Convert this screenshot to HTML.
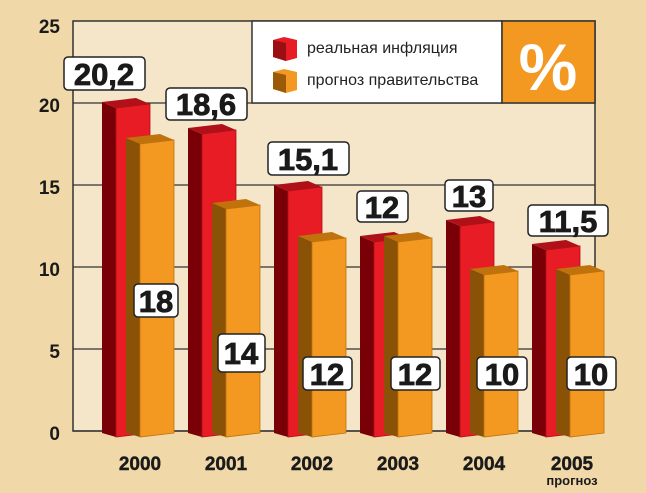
<!DOCTYPE html>
<html><head><meta charset="utf-8"><style>
body{margin:0;background:#f0d8a8;}
svg{display:block;font-family:"Liberation Sans","DejaVu Sans",sans-serif;}
.lb{fill:#fff;stroke:#222;stroke-width:1.5;}
.lt{font-weight:bold;font-size:31px;fill:#1a1a1a;stroke:#1a1a1a;stroke-width:0.8;text-anchor:middle;}
.ax{font-weight:bold;font-size:19px;fill:#1a1a1a;text-anchor:end;}
.yr{font-weight:bold;font-size:19px;fill:#1a1a1a;stroke:#1a1a1a;stroke-width:0.4;text-anchor:middle;}
.rs{fill:#7a0008}.rf{fill:#e81c24;stroke:#b01018;stroke-width:0.8}.rt{fill:#b01018}
.os{fill:#8a5206}.of{fill:#f39820;stroke:#c0720c;stroke-width:0.8}.ot{fill:#c0720c}
</style></head><body>
<svg width="646" height="493" viewBox="0 0 646 493">
<rect width="646" height="493" fill="#f0d8a8"/>
<rect x="73" y="21" width="522" height="410" fill="#f5e6ca" stroke="#333" stroke-width="1.5"/>
<g stroke="#333" stroke-width="1.3">
<line x1="73" y1="103" x2="595" y2="103"/><line x1="73" y1="185" x2="595" y2="185"/>
<line x1="73" y1="267" x2="595" y2="267"/><line x1="73" y1="349" x2="595" y2="349"/>
<line x1="73" y1="431" x2="595" y2="431"/>
</g>
<g class="ax"><text x="60" y="33">25</text><text x="60" y="112">20</text><text x="60" y="194">15</text><text x="60" y="276">10</text><text x="60" y="358">5</text><text x="60" y="440">0</text></g>
<rect x="252" y="21" width="250" height="82" fill="#fff" stroke="#333" stroke-width="1.5"/>
<rect x="502" y="21" width="93" height="82" fill="#f39820" stroke="#333" stroke-width="1.5"/>
<text x="548" y="90" text-anchor="middle" font-weight="bold" font-size="66" fill="#fff">%</text>
<g>
<polygon points="273,40 284,37 297,40 297,58 286,61 273,57" fill="#e81c24"/><polygon points="273,40 286,43 286,61 273,57" fill="#9a0f14"/>
<polygon points="273,72 284,69 297,72 297,90 286,93 273,89" fill="#f39820"/><polygon points="273,72 286,75 286,93 273,89" fill="#9a5a08"/>
</g>
<text x="307" y="53" font-size="16" fill="#222">реальная инфляция</text>
<text x="307" y="85" font-size="16" fill="#222">прогноз правительства</text>

<polygon class="rs" points="102,102 116,108 116,437 102,433"/><polygon class="rf" points="116,108 150,104 150,433 116,437"/><polygon class="rt" points="102,102 136,98 150,104 116,108"/>
<polygon class="os" points="126,138 140,144 140,437 126,433"/><polygon class="of" points="140,144 174,140 174,433 140,437"/><polygon class="ot" points="126,138 160,134 174,140 140,144"/>

<polygon class="rs" points="188,128 202,134 202,437 188,433"/><polygon class="rf" points="202,134 236,130 236,433 202,437"/><polygon class="rt" points="188,128 222,124 236,130 202,134"/>
<polygon class="os" points="212,203 226,209 226,437 212,433"/><polygon class="of" points="226,209 260,205 260,433 226,437"/><polygon class="ot" points="212,203 246,199 260,205 226,209"/>

<polygon class="rs" points="274,185 288,191 288,437 274,433"/><polygon class="rf" points="288,191 322,187 322,433 288,437"/><polygon class="rt" points="274,185 308,181 322,187 288,191"/>
<polygon class="os" points="298,236 312,242 312,437 298,433"/><polygon class="of" points="312,242 346,238 346,433 312,437"/><polygon class="ot" points="298,236 332,232 346,238 312,242"/>

<polygon class="rs" points="360,236 374,242 374,437 360,433"/><polygon class="rf" points="374,242 408,238 408,433 374,437"/><polygon class="rt" points="360,236 394,232 408,238 374,242"/>
<polygon class="os" points="384,236 398,242 398,437 384,433"/><polygon class="of" points="398,242 432,238 432,433 398,437"/><polygon class="ot" points="384,236 418,232 432,238 398,242"/>

<polygon class="rs" points="446,220 460,226 460,437 446,433"/><polygon class="rf" points="460,226 494,222 494,433 460,437"/><polygon class="rt" points="446,220 480,216 494,222 460,226"/>
<polygon class="os" points="470,269 484,275 484,437 470,433"/><polygon class="of" points="484,275 518,271 518,433 484,437"/><polygon class="ot" points="470,269 504,265 518,271 484,275"/>

<polygon class="rs" points="532,244 546,250 546,437 532,433"/><polygon class="rf" points="546,250 580,246 580,433 546,437"/><polygon class="rt" points="532,244 566,240 580,246 546,250"/>
<polygon class="os" points="556,269 570,275 570,437 556,433"/><polygon class="of" points="570,275 604,271 604,433 570,437"/><polygon class="ot" points="556,269 590,265 604,271 570,275"/>

<g>
<rect class="lb" x="64" y="57" width="81" height="33" rx="4"/><text class="lt" x="104" y="85">20,2</text>
<rect class="lb" x="166" y="88" width="81" height="32" rx="4"/><text class="lt" x="206" y="115">18,6</text>
<rect class="lb" x="268" y="142" width="81" height="33" rx="4"/><text class="lt" x="308" y="170">15,1</text>
<rect class="lb" x="357" y="191" width="51" height="31" rx="4"/><text class="lt" x="382" y="218">12</text>
<rect class="lb" x="445" y="180" width="48" height="31" rx="4"/><text class="lt" x="469" y="207">13</text>
<rect class="lb" x="528" y="205" width="80" height="31" rx="4"/><text class="lt" x="568" y="232">11,5</text>
<rect class="lb" x="134" y="284" width="44" height="33" rx="4"/><text class="lt" x="156" y="312">18</text>
<rect class="lb" x="218" y="334" width="47" height="38" rx="4"/><text class="lt" x="241" y="364">14</text>
<rect class="lb" x="303" y="357" width="49" height="33" rx="4"/><text class="lt" x="327" y="385">12</text>
<rect class="lb" x="391" y="357" width="49" height="33" rx="4"/><text class="lt" x="415" y="385">12</text>
<rect class="lb" x="477" y="357" width="50" height="33" rx="4"/><text class="lt" x="502" y="385">10</text>
<rect class="lb" x="567" y="357" width="49" height="33" rx="4"/><text class="lt" x="591" y="385">10</text>
</g>
<g class="yr"><text x="140" y="470">2000</text><text x="226" y="470">2001</text><text x="312" y="470">2002</text><text x="398" y="470">2003</text><text x="484" y="470">2004</text><text x="572" y="470">2005</text></g>
<text x="572" y="485" text-anchor="middle" font-weight="bold" font-size="13" fill="#1a1a1a">прогноз</text>
</svg>
</body></html>
